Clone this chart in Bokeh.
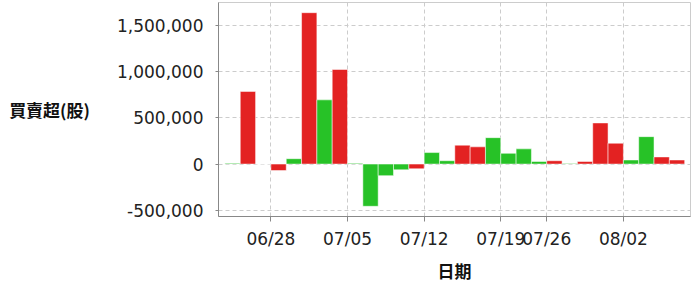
from bokeh.plotting import figure
from bokeh.models import ColumnDataSource, FixedTicker, Range1d, NumeralTickFormatter
from bokeh.embed import file_html
from bokeh.resources import INLINE

dates = ["06/23", "06/24", "06/25", "06/28", "06/29", "06/30", "07/01", "07/02",
         "07/05", "07/06", "07/07", "07/08", "07/09", "07/12", "07/13", "07/14",
         "07/15", "07/16", "07/19", "07/20", "07/21", "07/26", "07/27", "07/28",
         "07/29", "07/30", "08/02", "08/03", "08/04", "08/05"]
net = [8000, 784000, 0, -70000, 58000, 1634000, 693000, 1021000,
       8000, -456000, -125000, -62000, -51000, 124000, 36000, 204000,
       186000, 285000, 116000, 164000, 28000, 36000, 5000, 28000,
       444000, 225000, 44000, 296000, 77000, 44000]
up = [0, 1, 0, 1, 0, 1, 0, 1,
      0, 0, 0, 0, 1, 0, 0, 1,
      1, 0, 0, 0, 0, 1, 0, 1,
      1, 1, 0, 0, 1, 1]
tick_labels = ["06/28", "07/05", "07/12", "07/19", "07/26", "08/02"]
y_ticks = [-500000, 0, 500000, 1000000, 1500000]

RED = "#E32222"
GREEN = "#27C227"

x = list(range(1, len(dates) + 1))
colors = [RED if u else GREEN for u in up]
src = ColumnDataSource(dict(x=x, net=net, color=colors, date=dates))

p = figure(width=691, height=289, output_backend="svg", toolbar_location=None,
           x_range=Range1d(0.08, 30.88), y_range=Range1d(-566000, 1744000),
           min_border_left=218, min_border_right=1, min_border_top=2, min_border_bottom=73)

p.vbar(x="x", top="net", bottom=0, width=1.0, color="color", line_color="#ffffff",
       line_alpha=0.5, line_width=1, source=src)

tick_pos = [dates.index(t) + 0.5 for t in tick_labels]
p.xaxis.ticker = FixedTicker(ticks=tick_pos)
p.xaxis.major_label_overrides = {tp: lab for tp, lab in zip(tick_pos, tick_labels)}
p.yaxis.ticker = FixedTicker(ticks=y_ticks)
p.yaxis.formatter = NumeralTickFormatter(format="0,0")

for ax in (p.xaxis, p.yaxis):
    ax.major_label_text_font = "DejaVu Sans"
    ax.major_label_text_font_size = "17px"
    ax.major_label_text_color = "#222222"
    ax.axis_line_color = "#888888"
    ax.major_tick_line_color = "#888888"
    ax.minor_tick_line_color = None
    ax.axis_label_text_font = "Noto Sans CJK TC"
    ax.axis_label_text_font_style = "bold"
    ax.axis_label_text_color = "#111111"

p.xaxis.axis_label = "日期"
p.xaxis.axis_label_text_font_size = "17px"
p.xaxis.major_tick_out = 5
p.xaxis.major_tick_in = 0
p.xaxis.major_label_standoff = 7
p.xaxis.axis_label_standoff = 6

p.yaxis.axis_label = "買賣超(股)"
p.yaxis.axis_label_text_font_size = "17px"
p.yaxis.axis_label_orientation = "horizontal"
p.yaxis.major_tick_out = 3
p.yaxis.major_tick_in = 0
p.yaxis.major_label_standoff = 12
p.yaxis.axis_label_standoff = 24

p.xgrid.grid_line_color = "#cccccc"
p.xgrid.grid_line_dash = "4 3"
p.ygrid.grid_line_color = "#cccccc"
p.ygrid.grid_line_dash = "4 3"
p.outline_line_color = "#cccccc"
p.background_fill_color = "white"
p.border_fill_color = "white"

open("out.html", "w").write(file_html(p, INLINE))
